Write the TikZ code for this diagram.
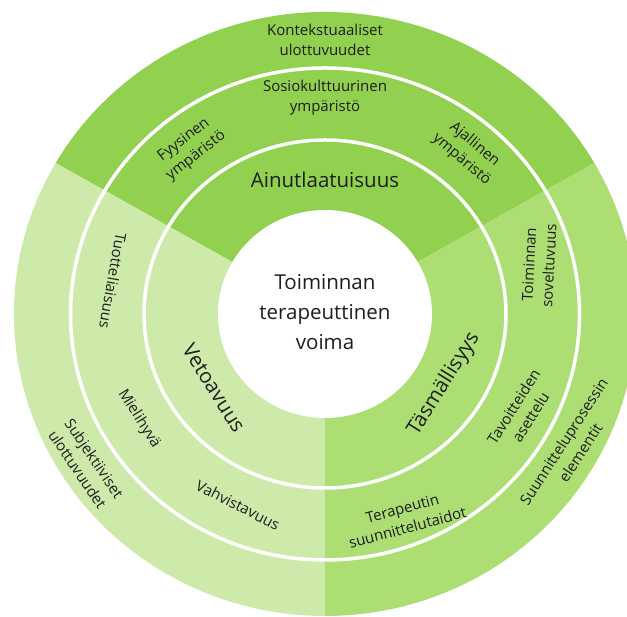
\documentclass[tikz,border=0pt]{standalone}
\usepackage{fontspec}
\setmainfont{Open Sans}[Ligatures=NoCommon]
\usetikzlibrary{calc}

\definecolor{topgreen}{RGB}{146,208,80}
\definecolor{rightgreen}{RGB}{172,222,116}
\definecolor{leftgreen}{RGB}{205,234,170}
\definecolor{labelgray}{RGB}{30,30,30}

\begin{document}
\begin{tikzpicture}[x=1pt,y=1pt,
  lbl/.style={text=labelgray,align=center,inner sep=0pt,font=\fontsize{15}{20}\selectfont},
  biglbl/.style={lbl,font=\fontsize{20.5}{30}\selectfont}]
\useasboundingbox (0,0) rectangle (627,617);
\clip (0,0) rectangle (627,617);
\coordinate (c) at (325,303);

% Three sectors of the wheel
\fill[topgreen] (c) -- ++(30:311pt and 302pt)
  arc[start angle=30,end angle=150,x radius=311pt,y radius=302pt] -- cycle;
\fill[leftgreen] (c) -- ++(150:311pt and 302pt)
  arc[start angle=150,end angle=270,x radius=311pt,y radius=302pt] -- cycle;
\fill[rightgreen] (c) -- ++(270:311pt and 302pt)
  arc[start angle=270,end angle=390,x radius=311pt,y radius=302pt] -- cycle;

% White ring borders and the hub
\draw[white,line width=3.5pt] (c) ellipse[x radius=254.5pt,y radius=246pt];
\draw[white,line width=3.5pt] (c) ellipse[x radius=181pt,y radius=174pt];
\fill[white] (c) ellipse[x radius=107pt,y radius=104pt];

% Hub
\node[biglbl] (hub) at (325,305) {Toiminnan\\terapeuttinen\\voima};

% Inner ring
\node[biglbl] (ainut) at (325,437) {Ainutlaatuisuus};
\node[biglbl,rotate=-58] (veto) at (214,229) {Vetoavuus};
\node[biglbl,rotate=58] (tasm) at (444,233) {Täsmällisyys};

% Middle ring
\node[lbl] (sosio) at (325,519) {Sosiokulttuurinen\\ympäristö};
\node[lbl,rotate=38] (fyys) at (190,469) {Fyysinen\\ympäristö};
\node[lbl,rotate=-40] (ajal) at (468,465) {Ajallinen\\ympäristö};
\node[lbl,rotate=-100] (tuot) at (113,336) {Tuotteliaisuus};
\node[lbl,rotate=-58] (mieli) at (139,198) {Mielihyvä};
\node[lbl,rotate=-27] (vahv) at (238,112) {Vahvistavuus};
\node[lbl,rotate=87] (sovel) at (539,352) {Toiminnan\\soveltuvuus};
\node[lbl,rotate=58] (tavo) at (522,205) {Tavoitteiden\\asettelu};
\node[lbl,rotate=15] (terap) at (405,99) {Terapeutin\\suunnittelutaidot};

% Outer ring
\node[lbl] (kont) at (325,577) {Kontekstuaaliset\\ulottuvuudet};
\node[lbl,rotate=-56] (subj) at (86,153) {Subjektiiviset\\ulottuvuudet};
\node[lbl,rotate=57] (suun) at (572,170) {Suunnitteluprosessin\\elementit};
\end{tikzpicture}
\end{document}
